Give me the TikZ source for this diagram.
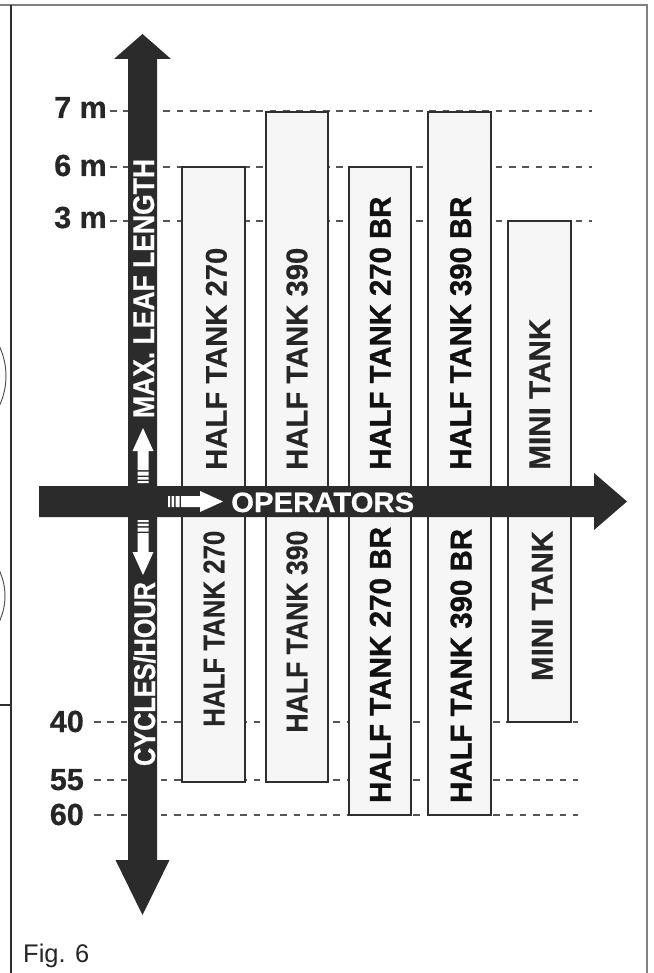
\documentclass[tikz,border=0pt]{standalone}
\usepackage{fontspec}
\setmainfont{Liberation Sans}
\newfontfamily\heavyfont[FakeBold=1.2]{Liberation Sans Bold}
\newfontfamily\semiheavyfont[FakeBold=0.6]{Liberation Sans Bold}
\newfontfamily\lightheavyfont[FakeBold=0.4]{Liberation Sans Bold}
\usepackage{graphicx}
\definecolor{arrowdark}{HTML}{2B2B2B}
\definecolor{boxfill}{HTML}{F5F6F5}
\definecolor{boxline}{HTML}{2F2F2F}
\definecolor{guidegray}{HTML}{555555}
\definecolor{txtdark}{HTML}{262626}
\definecolor{txtblack}{HTML}{111111}
\definecolor{framegray}{HTML}{808080}
\newcommand\fitw[2]{\resizebox{#1pt}{\height}{#2}}
\tikzset{
  bar/.style={draw=boxline, fill=boxfill, line width=1.7pt},
  guide/.style={draw=guidegray, line width=1.3pt, dash pattern=on 6.7pt off 6.6pt},
  lab/.style={font=\fontsize{30.5}{30.5}\semiheavyfont, text=txtdark, inner sep=0pt},
  vtext/.style={font=\fontsize{30}{30}\lightheavyfont, text=txtdark, inner sep=0pt, rotate=90, anchor=base},
  vheavy/.style={vtext, font=\fontsize{30}{30}\heavyfont, text=txtblack},
  vwhite/.style={vtext, font=\fontsize{30}{30}\semiheavyfont, text=white},
  frame/.style={line width=1.4pt},
  smallarr/.pic={
    \fill[white] (0,-5.5) rectangle (2,5.5) (3.5,-5.5) rectangle (6,5.5)
      (7.5,-5.5) rectangle (11.5,5.5) (13,-5.5) rectangle (32,5.5);
    \fill[white] (32,-10.5) -- (55,0) -- (32,10.5) -- cycle;
  }
}
\begin{document}
\begin{tikzpicture}[x=1pt,y=-1pt]
\useasboundingbox (0,0) rectangle (653,973);
% frame remnants
\draw[frame, draw=framegray] (0,5) -- (647,5) -- (647,973);
\draw[frame, draw=boxline] (11,5) -- (11,973);
\draw[frame, draw=boxline] (0,705) -- (11,705);
\begin{scope}
  \clip (0,0) rectangle (10,973);
  \draw[line width=1pt, draw=guidegray] (-64,376) circle (70);
  \draw[line width=1pt, draw=guidegray] (-55,596) circle (60);
\end{scope}
% scale labels
\node[lab, anchor=base east] (l7) at (107,118) {7 m};
\node[lab, anchor=base east] (l6) at (107,176) {6 m};
\node[lab, anchor=base east] (l3) at (107,228) {3 m};
\node[lab, anchor=base east] (l40) at (84,732) {40};
\node[lab, anchor=base east] (l55) at (84,790) {55};
\node[lab, anchor=base east] (l60) at (84,825) {60};
% guide lines
\draw[guide] (110,111) -- (592,111);
\draw[guide] (110,167) -- (592,167);
\draw[guide] (110,221) -- (592,221);
\draw[guide] (94,722) -- (578,722);
\draw[guide] (94,780) -- (578,780);
\draw[guide] (94,815) -- (578,815);
% bars
\draw[bar] (182,167) rectangle (245,782);
\draw[bar] (266,112) rectangle (328,782);
\draw[bar] (349,167) rectangle (411,815);
\draw[bar] (428,112) rectangle (491,815);
\draw[bar] (508,221) rectangle (571,722);
% big arrows
\fill[arrowdark] (128,59) -- (114,59) -- (142.5,34) -- (171,59) -- (157,59)
  -- (157,860) -- (169.5,860) -- (142.5,915) -- (115.5,860) -- (128,860) -- cycle;
\fill[arrowdark] (39,486) -- (594,486) -- (594,473) -- (627,501.5) -- (594,530)
  -- (594,517) -- (39,517) -- cycle;
% small arrows
\pic[rotate=90] (upa) at (143,483) {smallarr};
\pic[rotate=-90] (dna) at (143,520) {smallarr};
\pic (rta) at (168,501.5) {smallarr};
% axis texts
\node[vwhite] (tmax) at (154,288.5) {\fitw{259}{MAX. LEAF LENGTH}};
\node[vwhite] (tcyc) at (155,674) {\fitw{184}{CYCLES/HOUR}};
\node[font=\fontsize{28}{28}\semiheavyfont, text=white, inner sep=0pt, anchor=base west] (tops) at (231,512) {\fitw{183}{OPERATORS}};
% bar texts upper
\node[vtext] (u1) at (226.7,358.7) {\fitw{222}{HALF TANK 270}};
\node[vtext] (u2) at (307.3,358.7) {\fitw{222}{HALF TANK 390}};
\node[vheavy] (u3) at (390.7,333.1) {\fitw{273}{HALF TANK 270 BR}};
\node[vheavy] (u4) at (471,333.1) {\fitw{273}{HALF TANK 390 BR}};
\node[vtext] (u5) at (550,394.2) {\fitw{151}{MINI TANK}};
% bar texts lower
\node[vtext] (d1) at (224.3,628.7) {\fitw{196}{HALF TANK 270}};
\node[vtext] (d2) at (307.3,631.6) {\fitw{202}{HALF TANK 390}};
\node[vheavy] (d3) at (390.7,664.9) {\fitw{276}{HALF TANK 270 BR}};
\node[vheavy] (d4) at (471.5,665.9) {\fitw{274}{HALF TANK 390 BR}};
\node[vtext] (d5) at (552.5,605.9) {\fitw{150}{MINI TANK}};
% caption
\node[font=\fontsize{25.5}{25.5}\selectfont, text=txtdark, inner sep=0pt, anchor=base west] (fig) at (23,962) {Fig. 6};
\end{tikzpicture}
\end{document}
